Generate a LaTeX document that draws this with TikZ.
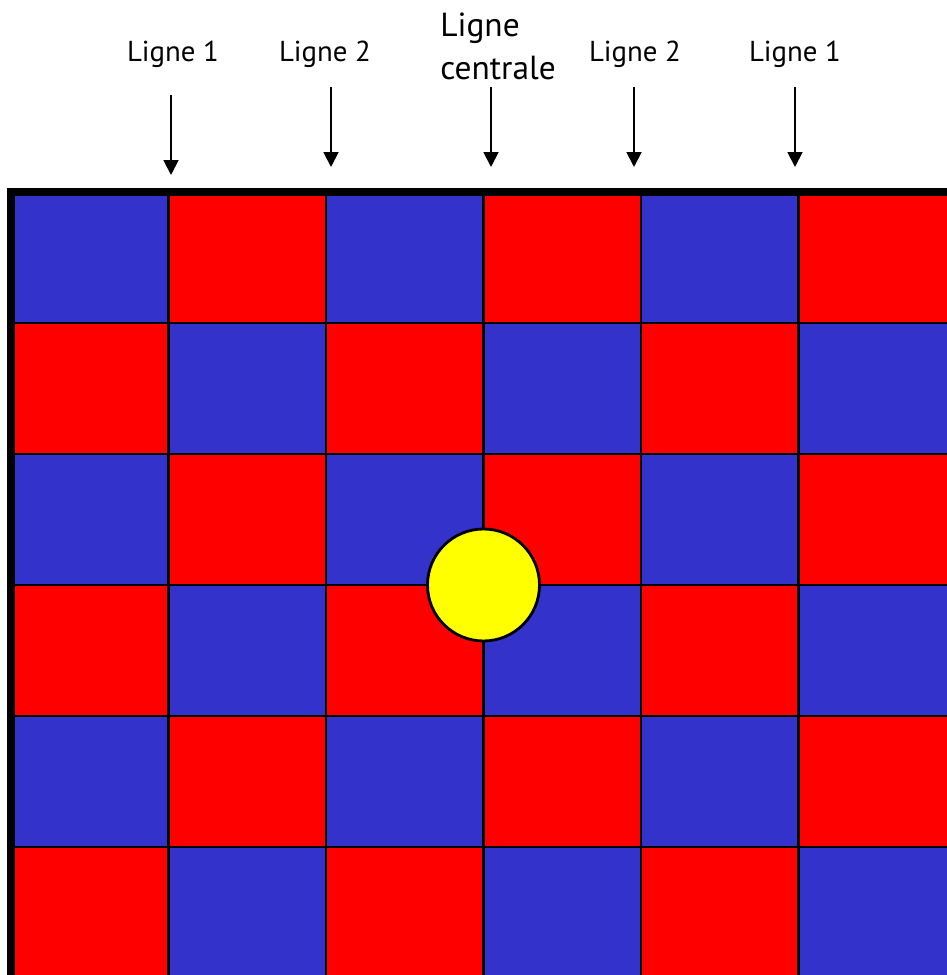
\documentclass[tikz,border=0pt]{standalone}
\usepackage{fontspec}
\setmainfont{PT Sans}
\usepackage{tikz}
\usetikzlibrary{arrows.meta,positioning,calc}
\definecolor{CaseBleue}{HTML}{3333CC}
\definecolor{CaseRouge}{HTML}{FF0000}
\definecolor{Bille}{HTML}{FFFF00}

\tikzset{
  etiquette/.style={font=\fontsize{16.4}{19}\selectfont,anchor=base,inner sep=0pt},
  fleche/.style={-{Triangle[length=8.5pt,width=8.5pt]},line width=1.1pt},
  trait/.style={line width=1.7pt},
  bord/.style={line width=4.5pt}
}

\begin{document}
\begin{tikzpicture}
  \useasboundingbox (0,0) rectangle (18.94,19.5);
  \clip (0,0) rectangle (18.94,19.5);
  % Damier 6x6
  \foreach \i in {0,...,5}{
    \foreach \j in {0,...,5}{
      \pgfmathtruncatemacro\parite{mod(\i+\j,2)}
      \ifnum\parite=0 \def\teinte{CaseBleue}\else \def\teinte{CaseRouge}\fi
      \fill[\teinte] ({0.22+3.15*\i},{15.66-2.62*\j}) rectangle ++(3.15,-2.62);
    }
  }
  % Traits du damier
  \foreach \i in {1,...,5}
    \draw[trait] ({0.22+3.15*\i},15.66) -- ({0.22+3.15*\i},-0.2);
  \foreach \j in {1,...,5}
    \draw[trait] (0.22,{15.66-2.62*\j}) -- (19.2,{15.66-2.62*\j});
  % Bords epais
  \draw[bord] (0.14,15.66) -- (19.2,15.66);
  \draw[bord] (0.22,15.74) -- (0.22,-0.2);
  % Bille au centre
  \node[circle,draw,line width=1.6pt,fill=Bille,minimum size=2.24cm,inner sep=0pt]
    (bille) at (9.67,7.80) {};
  % Etiquettes
  \node[etiquette] (l1g) at (3.46,18.26) {Ligne 1};
  \node[etiquette] (l2g) at (6.50,18.26) {Ligne 2};
  \node[etiquette] (l2d) at (12.70,18.26) {Ligne 2};
  \node[etiquette] (l1d) at (15.90,18.26) {Ligne 1};
  \node[anchor=base west,inner sep=0pt,align=left,
        font=\fontsize{19}{24.5}\selectfont] (lc) at (8.80,17.90) {Ligne\\centrale};
  % Fleches
  \coordinate (d1) at (3.42,17.60);  \coordinate (f1) at (3.42,16.00);
  \coordinate (d2) at (6.62,17.76);  \coordinate (f2) at (6.62,16.16);
  \coordinate (d3) at (9.82,17.76);  \coordinate (f3) at (9.82,16.16);
  \coordinate (d4) at (12.68,17.76); \coordinate (f4) at (12.68,16.16);
  \coordinate (d5) at (15.90,17.76); \coordinate (f5) at (15.90,16.16);
  \foreach \k in {1,...,5}
    \draw[fleche] (d\k) -- (f\k);
\end{tikzpicture}
\end{document}
